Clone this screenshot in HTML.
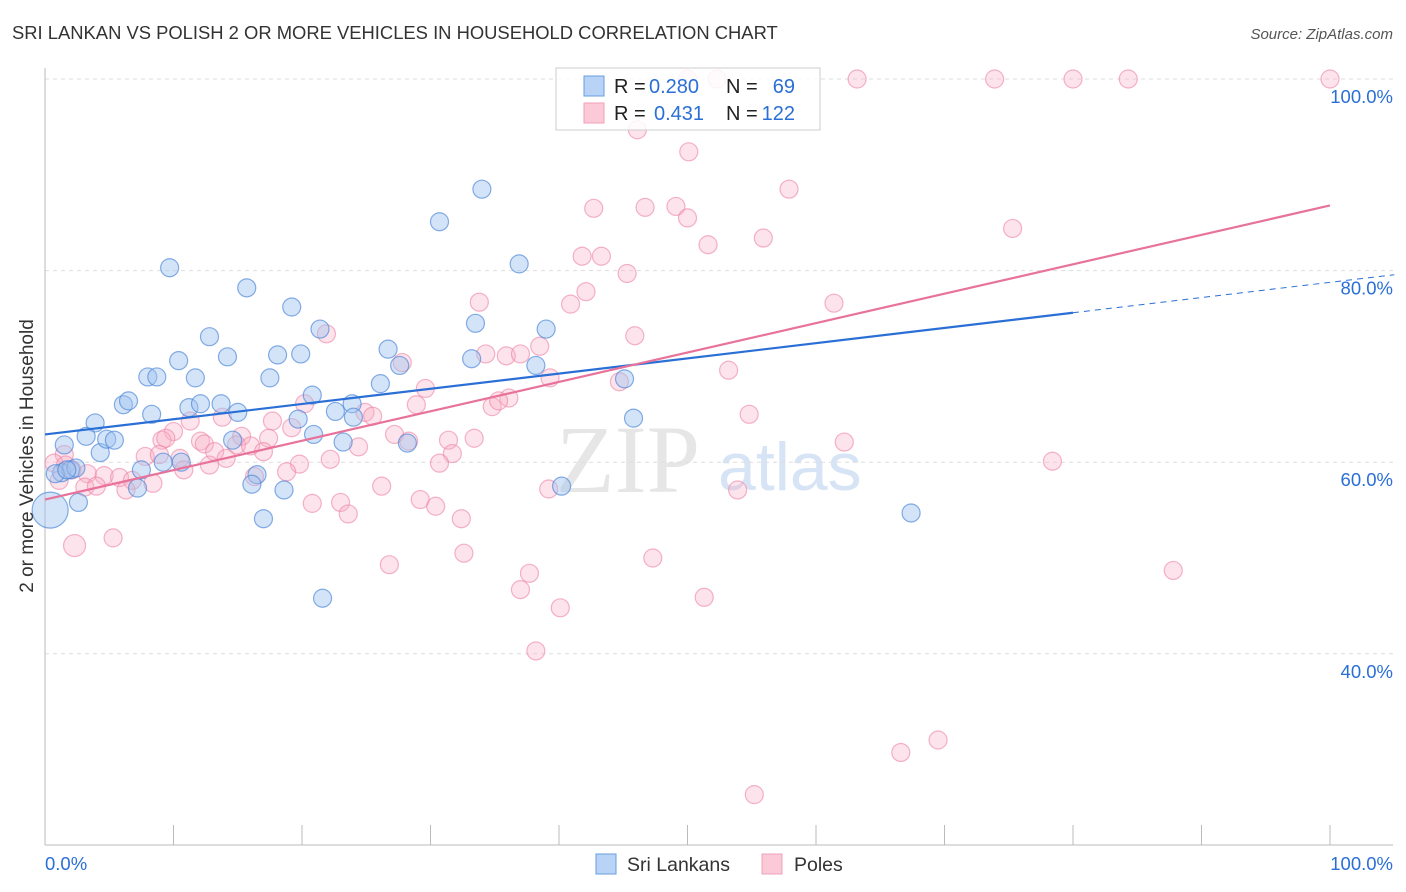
<!DOCTYPE html>
<html><head><meta charset="utf-8"><style>
body{margin:0;background:#fff;font-family:"Liberation Sans",sans-serif;}
svg{display:block}
</style></head><body>
<svg width="1406" height="892" xmlns="http://www.w3.org/2000/svg">
<text x="12" y="39" font-size="18.4" fill="#333">SRI LANKAN VS POLISH 2 OR MORE VEHICLES IN HOUSEHOLD CORRELATION CHART</text>
<text x="1393" y="39" font-size="15" fill="#555" font-style="italic" text-anchor="end">Source: ZipAtlas.com</text>
<g>
<text x="556" y="492" font-size="96" fill="#e6e6e6" font-family="Liberation Serif,serif">ZIP</text>
<text x="718" y="490" font-size="68" fill="#d6e4f5">atlas</text>
</g>
<g id="grid"></g>
<g id="axes"></g>
<g id="pts"></g>
<g id="lines"></g>
<text x="33" y="456" font-size="19" fill="#333" text-anchor="middle" transform="rotate(-90 33 456)">2 or more Vehicles in Household</text>
<g>
<rect x="556" y="68" width="264" height="62" fill="rgba(255,255,255,0.85)" stroke="#ccc"/>
<rect x="584" y="76" width="20" height="20" fill="#b8d3f5" stroke="#6a9ee0"/>
<text x="614" y="93" font-size="20" fill="#222">R =</text>
<text x="649" y="93" font-size="20" fill="#2a6fd6">0.280</text>
<text x="726" y="93" font-size="20" fill="#222">N =</text>
<text x="795" y="93" font-size="20" fill="#2a6fd6" text-anchor="end">69</text>
<rect x="584" y="103" width="20" height="20" fill="#fbc9d7" stroke="#f0a0b8"/>
<text x="614" y="120" font-size="20" fill="#222">R =</text>
<text x="654" y="120" font-size="20" fill="#2a6fd6">0.431</text>
<text x="726" y="120" font-size="20" fill="#222">N =</text>
<text x="795" y="120" font-size="20" fill="#2a6fd6" text-anchor="end">122</text>
</g>
<g>
<rect x="596" y="854" width="20" height="20" fill="#b8d3f5" stroke="#6a9ee0"/>
<text x="627" y="871" font-size="19.5" fill="#333">Sri Lankans</text>
<rect x="762" y="854" width="20" height="20" fill="#fbc9d7" stroke="#f0a0b8"/>
<text x="794" y="871" font-size="19.5" fill="#333">Poles</text>
</g>
</svg>
<script>
const blueX=[9.7,15.7,19.2,21.4,12.8,10.4,14.2,18.1,19.9,11.7,8.0,8.7,17.5,6.1,6.5,8.3,11.2,12.1,13.7,15.0,3.9,3.2,4.3,4.8,5.4,1.5,1.3,2.0,2.4,0.8,2.6,7.2,7.5,9.2,10.6,14.6,16.5,16.1,17.0,18.6,20.9,20.8,19.7,22.6,23.9,24.0,23.2,26.1,26.7,27.6,28.2,33.2,33.5,34.0,30.7,36.9,39.0,38.2,45.1,45.8,40.2,67.4,21.6,0.4,1.7];
const blueY=[80.3,78.2,76.2,73.9,73.1,70.6,71.0,71.2,71.3,68.8,68.9,68.9,68.8,66.0,66.4,65.0,65.7,66.1,66.1,65.2,64.1,62.7,61.0,62.4,62.3,61.8,58.9,59.2,59.4,58.8,55.8,57.3,59.2,60.0,60.0,62.3,58.7,57.7,54.1,57.1,62.9,67.0,64.5,65.3,66.1,64.7,62.1,68.2,71.8,70.1,62.0,70.8,74.5,88.5,85.1,80.7,73.9,70.1,68.7,64.6,57.5,54.7,45.8,55.0,59.2];
const blueBig={63:18};
const pinkX=[50.0,52.3,63.2,73.9,80.0,84.3,100,46.1,50.1,57.9,42.7,46.7,49.1,50.0,75.3,55.9,51.6,41.8,43.3,45.3,42.1,40.9,61.4,33.8,21.9,45.9,38.5,34.3,35.9,37.0,27.8,53.2,39.3,44.7,29.6,20.2,28.9,34.8,36.1,35.3,24.9,25.5,13.8,11.3,17.7,54.8,19.2,27.2,10.0,15.3,31.4,33.4,9.1,12.1,9.4,17.4,62.2,12.4,14.9,16.0,24.4,28.3,13.2,17.0,31.7,7.8,8.9,10.5,14.1,10.8,12.8,19.8,22.2,30.7,78.4,1.5,0.7,2.1,3.3,4.6,5.8,6.8,8.4,16.3,18.8,1.1,3.1,4.0,6.3,20.8,23.0,23.6,26.2,29.2,30.4,39.2,53.9,32.4,1.6,5.3,2.3,32.6,26.8,47.3,37.7,37.0,40.1,51.3,87.8,38.2,66.6,69.5,55.2];
const pinkY=[100,100,100,100,100,100,100,94.7,92.4,88.5,86.5,86.6,86.7,85.5,84.4,83.4,82.7,81.5,81.5,79.7,77.8,76.5,76.6,76.7,73.4,73.2,72.1,71.3,71.1,71.3,70.4,69.6,68.8,68.4,67.7,66.1,66.0,65.8,66.7,66.4,65.2,64.8,64.7,64.3,64.3,65.0,63.6,62.9,63.2,62.7,62.3,62.5,62.3,62.2,62.5,62.5,62.1,61.9,61.8,61.7,61.6,62.2,61.1,61.1,60.9,60.6,60.8,60.4,60.4,59.2,59.7,59.8,60.3,59.9,60.1,60.8,59.9,59.2,58.8,58.6,58.4,58.1,57.8,58.5,59.0,58.1,57.4,57.5,57.1,55.7,55.8,54.6,57.5,56.1,55.4,57.2,57.1,54.1,59.7,52.1,51.3,50.5,49.3,50.0,48.4,46.7,44.8,45.9,48.7,40.3,29.7,31.0,25.3];
const pinkBig={100:11};
const blueTrend=[62.9,75.6]; // y at x=0, x=80
const pinkTrend=[56.1,86.8]; // y at x=0, x=100
const yTicks=[100,80,60,40];
const yTickLabels=["100.0%","80.0%","60.0%","40.0%"];
const xTicks=[10,20,30,40,50,60,70,80,90,100];

const NS="http://www.w3.org/2000/svg";
const sx=v=>45+v*12.85;
const sy=v=>79+(100-v)*9.58;
function mk(tag,attrs,parent){const e=document.createElementNS(NS,tag);for(const k in attrs)e.setAttribute(k,attrs[k]);document.getElementById(parent).appendChild(e);return e;}

yTicks.forEach((t,i)=>{
  const g=mk('line',{x1:45,x2:1393,y1:sy(t),y2:sy(t),stroke:'#ddd','stroke-dasharray':'4 4'},'grid');
  
  
  const l=mk('text',{x:1393,y:sy(t)+24,'font-size':18.5,fill:'#2a6fd6','text-anchor':'end'},'axes');
  l.textContent=yTickLabels[i];
  
  
});
let a=mk('line',{x1:45,x2:45,y1:68,y2:845,stroke:'#bbb'},'axes');


a=mk('line',{x1:45,x2:1393,y1:845,y2:845,stroke:'#bbb'},'axes');


xTicks.forEach(t=>{
  const k=mk('line',{x1:sx(t),x2:sx(t),y1:825,y2:845,stroke:'#bbb'},'axes');
  
  
});
let xl=mk('text',{x:45,y:870,'font-size':18.5,fill:'#2a6fd6'},'axes');xl.textContent='0.0%';


xl=mk('text',{x:1393,y:870,'font-size':18.5,fill:'#2a6fd6','text-anchor':'end'},'axes');xl.textContent='100.0%';



pinkX.forEach((x,i)=>{
  const c=mk('circle',{cx:sx(x),cy:sy(pinkY[i]),r:pinkBig[i]||9,fill:'rgba(248,175,198,0.35)',stroke:'rgba(236,130,165,0.6)','stroke-width':1.2},'pts');
  
  
});
blueX.forEach((x,i)=>{
  const c=mk('circle',{cx:sx(x),cy:sy(blueY[i]),r:blueBig[i]||9,fill:'rgba(160,196,240,0.45)',stroke:'rgba(70,130,215,0.65)','stroke-width':1.2},'pts');
  
  
});
const bSlope=(blueTrend[1]-blueTrend[0])/80;
let ln=mk('line',{x1:sx(0),y1:sy(blueTrend[0]),x2:sx(80),y2:sy(blueTrend[1]),stroke:'#2a6fd6','stroke-width':2.2},'lines');


ln=mk('line',{x1:sx(80),y1:sy(blueTrend[1]),x2:sx(105),y2:sy(blueTrend[0]+bSlope*105),stroke:'#2a6fd6','stroke-width':1,'stroke-dasharray':'6 5'},'lines');


ln=mk('line',{x1:sx(0),y1:sy(pinkTrend[0]),x2:sx(100),y2:sy(pinkTrend[1]),stroke:'#e8739a','stroke-width':2.2},'lines');


</script>
</body></html>
